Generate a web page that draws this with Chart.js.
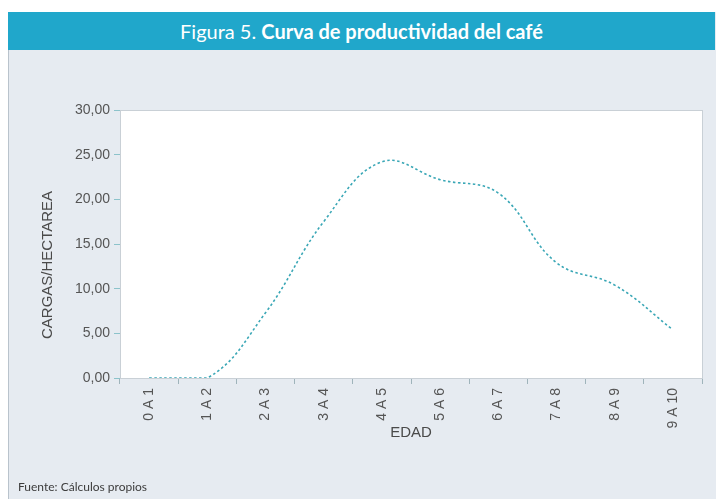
<!DOCTYPE html>
<html>
<head>
<meta charset="utf-8">
<script src="https://cdn.jsdelivr.net/npm/chart.js@4.4.0/dist/chart.umd.min.js"></script>
<style>
    body { margin: 0; width: 720px; height: 499px; overflow: hidden; background: #fff; position: relative; font-family: Lato, "Open Sans", sans-serif; }
    #panel { position: absolute; left: 8px; top: 12px; width: 707px; height: 487px; background: #e6ebf1; border-left: 1px solid #b9c3cc; }
    #band { position: absolute; left: 8px; top: 12px; width: 707px; height: 38px; background: #20a7cb; color: #fff; font-size: 20px; text-align: center; line-height: 38px; }
    #band b { font-weight: 700; }
    #chartBox { position: absolute; left: 0; top: 0; width: 720px; height: 499px; }
    #fuente { position: absolute; left: 18px; top: 479px; font-size: 12px; color: #3c3c3c; }
</style>
</head>
<body>
<div id="panel"></div>
<div id="band">Figura 5. <b>Curva de productividad del café</b></div>
<div id="chartBox"><canvas id="curva" width="720" height="499"></canvas></div>
<div id="fuente">Fuente: Cálculos propios</div>

<script>
// Edades (años) y cargas por hectárea
const edades = ['0 A 1', '1 A 2', '2 A 3', '3 A 4', '4 A 5', '5 A 6', '6 A 7', '7 A 8', '8 A 9', '9 A 10'];
const cargasHectarea = [0, 0, 7.3, 17.5, 24.2, 22.2, 20.7, 12.9, 10.4, 5.4];
const yMin = 0;
const yMax = 30;
const yPaso = 5;

// Fondo blanco y marco del area de trazado
const plotFrame = {
    id: 'plotFrame',
    beforeDraw(chart) {
        const { ctx, chartArea: a } = chart;
        ctx.save();
        ctx.fillStyle = '#ffffff';
        ctx.fillRect(a.left, a.top, a.right - a.left, a.bottom - a.top);
        ctx.restore();
    },
    afterDraw(chart) {
        const { ctx, chartArea: a } = chart;
        ctx.save();
        ctx.strokeStyle = '#c9d0d6';
        ctx.lineWidth = 1;
        ctx.strokeRect(a.left + 0.5, a.top + 0.5, a.right - a.left, a.bottom - a.top);
        // titulo eje Y
        ctx.translate(48, 265);
        ctx.rotate(-Math.PI / 2);
        ctx.fillStyle = '#4a4a4a';
        ctx.font = '15px "Liberation Sans", Arial, sans-serif';
        ctx.textAlign = 'center';
        ctx.textBaseline = 'middle';
        ctx.fillText('CARGAS/HECTAREA', 0, 0);
        ctx.restore();
    }
};

const ctx = document.getElementById('curva').getContext('2d');
new Chart(ctx, {
    type: 'line',
    data: {
        labels: edades,
        datasets: [{
            data: cargasHectarea,
            borderColor: '#3aa7b6',
            borderWidth: 1.6,
            borderDash: [2.5, 2.5],
            tension: 0.4,
            pointRadius: 0,
            fill: false
        }]
    },
    options: {
        responsive: false,
        animation: false,
        layout: { padding: { left: 38, top: 110, right: 18, bottom: 57 } },
        plugins: { legend: { display: false }, tooltip: { enabled: false } },
        scales: {
            x: {
                offset: true,
                grid: { offset: true, drawOnChartArea: false, drawTicks: true, tickLength: 6, color: '#9fb4bb' },
                border: { color: '#9aa0a6' },
                ticks: {
                    minRotation: 90, maxRotation: 90, padding: 4,
                    color: '#555', font: { family: '"Liberation Sans", Arial, sans-serif', size: 14 }
                },
                title: {
                    display: true, text: 'EDAD', color: '#4a4a4a', padding: { top: 4, bottom: 0 },
                    font: { family: '"Liberation Sans", Arial, sans-serif', size: 15 }
                },
                afterFit(scale) { scale.height = 64; }
            },
            y: {
                min: yMin, max: yMax,
                grid: { drawOnChartArea: false, drawTicks: true, tickLength: 6, color: '#8cc3cb' },
                border: { color: '#9aa0a6' },
                ticks: {
                    stepSize: yPaso, padding: 4, color: '#555',
                    font: { family: '"Liberation Sans", Arial, sans-serif', size: 14 },
                    callback: v => v.toFixed(2).replace('.', ',')
                },
                afterFit(scale) { scale.width = 82; }
            }
        }
    },
    plugins: [plotFrame]
});
</script>
</body>
</html>
